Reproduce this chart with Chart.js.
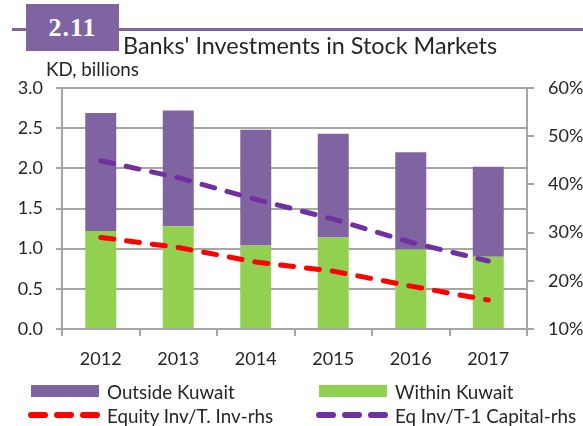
<!DOCTYPE html>
<html>
<head>
<meta charset="utf-8">
<script src="https://cdn.jsdelivr.net/npm/chart.js@4"></script>
<style>
  body { margin: 0; background: #fff; }
  #wrap { position: relative; width: 583px; height: 426px; overflow: hidden; font-family: Lato, sans-serif; color: #262626; }
  #grafica { position: absolute; left: 0; top: 0; }
  .rule { position: absolute; left: 12px; top: 28px; width: 571px; height: 3px; background: #8064A2; }
  .badge { position: absolute; left: 26px; top: 4px; width: 93px; height: 47px; background: #8064A2; color: #fff;
           font: bold 26px "Liberation Serif", serif; line-height: 47px; text-align: center; letter-spacing: 1px; }
  .titulo { position: absolute; left: 123px; top: 34px; font-size: 23.4px; line-height: 23.4px; white-space: nowrap; }
  .unidad { position: absolute; left: 46px; top: 57px; font-size: 18.8px; white-space: nowrap; }
  .ley { position: absolute; display: flex; align-items: center; font-size: 18.8px; white-space: nowrap; height: 24px; }
  .ley svg { margin-right: 7px; }
</style>
</head>
<body>
<div id="wrap">
  <canvas id="grafica" width="583" height="426"></canvas>
  <div class="rule"></div>
  <div class="badge">2.11</div>
  <div class="titulo">Banks' Investments in Stock Markets</div>
  <div class="unidad">KD, billions</div>
  <div id="leyenda"></div>
</div>
<script>
// datos
const years = ["2012", "2013", "2014", "2015", "2016", "2017"];
const outsideKuwait = [1.47, 1.44, 1.44, 1.29, 1.21, 1.12];
const withinKuwait = [1.22, 1.28, 1.04, 1.14, 0.99, 0.90];
const equityInv = [29.0, 26.9, 23.9, 22.0, 18.9, 16.0];   // % rhs
const eqTier1 = [44.9, 41.4, 36.9, 32.8, 28.0, 24.1];     // % rhs
const leftTicks = [0, 0.5, 1, 1.5, 2, 2.5, 3];
const rightTicks = [10, 20, 30, 40, 50, 60];

const gris = "#a6a6a6";
const fuente = { family: "Lato", size: 18 };

const ctx = document.getElementById("grafica").getContext("2d");
const chart = new Chart(ctx, {
  type: 'bar',
  data: {
    labels: years,
    datasets: [
      { type: 'line', label: "Equity Inv/T. Inv-rhs", data: equityInv, yAxisID: 'y1', order: 0,
        borderColor: "#ff0000", borderWidth: 5, borderDash: [13, 13], borderCapStyle: 'round',
        pointRadius: 0, fill: false, tension: 0 },
      { type: 'line', label: "Eq Inv/T-1 Capital-rhs", data: eqTier1, yAxisID: 'y1', order: 0,
        borderColor: "#7030a0", borderWidth: 5, borderDash: [13, 13], borderCapStyle: 'round',
        pointRadius: 0, fill: false, tension: 0 },
      { label: "Within Kuwait", data: withinKuwait, backgroundColor: "#92d050", stack: 's', order: 1,
        barPercentage: 0.4, categoryPercentage: 1 },
      { label: "Outside Kuwait", data: outsideKuwait, backgroundColor: "#8064a2", stack: 's', order: 1,
        barPercentage: 0.4, categoryPercentage: 1 }
    ]
  },
  options: {
    responsive: false,
    animation: false,
    layout: { padding: { top: 88, left: 0, right: 0, bottom: 0 } },
    plugins: { legend: { display: false }, tooltip: { enabled: false } },
    scales: {
      x: {
        stacked: true,
        grid: { drawOnChartArea: false, drawTicks: true, tickLength: 7, color: gris, lineWidth: 2 },
        border: { display: true, color: gris, width: 2 },
        ticks: { color: "#262626", font: fuente, padding: 12 },
        afterFit: s => { s.height = 97; }
      },
      y: {
        stacked: true, min: 0, max: 3,
        grid: { color: gris, lineWidth: 2, tickLength: 6 },
        border: { display: true, color: gris, width: 2 },
        afterBuildTicks: s => { s.ticks = leftTicks.map(v => ({ value: v })); },
        ticks: { color: "#262626", font: fuente, padding: 13, callback: v => v.toFixed(1) },
        afterFit: s => { s.width = 62; }
      },
      y1: {
        position: 'right', min: 10, max: 60,
        grid: { drawOnChartArea: false, color: gris, lineWidth: 2, tickLength: 7 },
        border: { display: true, color: gris, width: 2 },
        afterBuildTicks: s => { s.ticks = rightTicks.map(v => ({ value: v })); },
        ticks: { color: "#262626", font: fuente, padding: 14, callback: v => v + "%" },
        afterFit: s => { s.width = 56; }
      }
    }
  }
});

// Leyenda en HTML con los estilos de los datasets
const leyenda = document.getElementById("leyenda");
const posiciones = { "Outside Kuwait": [28, 379], "Within Kuwait": [316, 379],
  "Equity Inv/T. Inv-rhs": [28, 403], "Eq Inv/T-1 Capital-rhs": [316, 403] };
[3, 2, 0, 1].forEach(i => {
  const ds = chart.data.datasets[i];
  const [x, y] = posiciones[ds.label];
  const div = document.createElement("div");
  div.className = "ley";
  div.style.left = x + "px";
  div.style.top = y + "px";
  let svg;
  if (ds.type === 'line') {
    svg = `<svg width="72" height="10"><line x1="3" y1="5" x2="69" y2="5" stroke="${ds.borderColor}" stroke-width="6" stroke-linecap="round" stroke-dasharray="14 12"/></svg>`;
  } else {
    svg = `<svg width="72" height="12"><rect x="3" y="0" width="68" height="12" fill="${ds.backgroundColor}"/></svg>`;
  }
  div.innerHTML = svg + `<span>${ds.label}</span>`;
  leyenda.appendChild(div);
});
</script>
</body>
</html>
